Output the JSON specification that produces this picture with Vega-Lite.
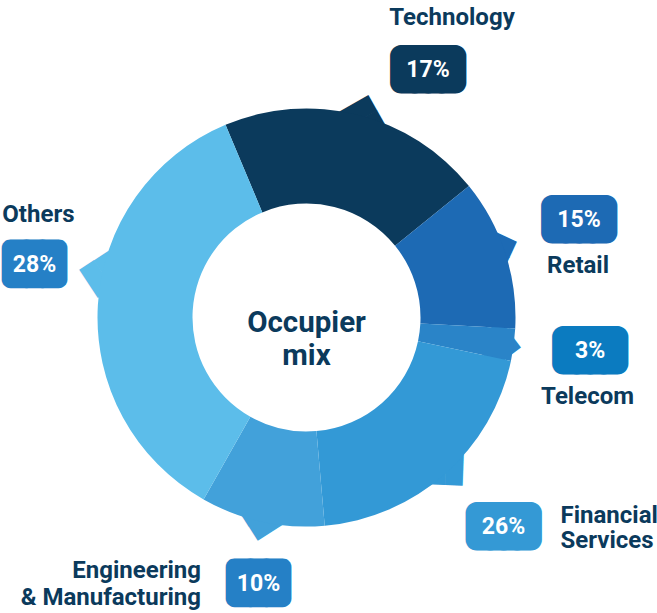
{
  "$schema": "https://vega.github.io/schema/vega-lite/v6.json",
  "width": 613,
  "height": 591,
  "autosize": {"type": "none"},
  "padding": {"left": 0, "top": 22, "right": 44, "bottom": 0},
  "background": "white",
  "config": {"view": {"stroke": null}},
  "data": {"values": [
    {"category": "Technology", "label": "Technology", "share": 0.17, "drawn_arc": 73.8, "seq": 1},
    {"category": "Retail", "label": "Retail", "share": 0.15, "drawn_arc": 42, "seq": 2},
    {"category": "Telecom", "label": "Telecom", "share": 0.03, "drawn_arc": 9, "seq": 3},
    {"category": "Financial Services", "label": "Financial\nServices", "share": 0.26, "drawn_arc": 73, "seq": 4},
    {"category": "Engineering & Manufacturing", "label": "Engineering\n& Manufacturing", "share": 0.10, "drawn_arc": 34.5, "seq": 5},
    {"category": "Others", "label": "Others", "share": 0.28, "drawn_arc": 127.7, "seq": 6}
  ]},
  "layer": [
    {"mark": {"type": "text", "font": "DejaVu Sans Mono", "fontSize": 28.5, "radius": 206, "angle": 60.5, "fill": "#0b3a5c", "align": "center", "baseline": "middle"},
     "encoding": {"theta": {"field": "drawn_arc", "type": "quantitative", "stack": true, "bandPosition": 0.519}, "order": {"field": "seq"}, "detail": {"field": "category"},
       "text": {"condition": {"test": "datum.category === 'Technology'", "value": "██"}, "value": ""}}},
    {"mark": {"type": "text", "font": "DejaVu Sans Mono", "fontSize": 28.5, "radius": 198.7, "angle": 115.2, "fill": "#1d6ab4", "align": "center", "baseline": "middle"},
     "encoding": {"theta": {"field": "drawn_arc", "type": "quantitative", "stack": true, "bandPosition": 0.457}, "order": {"field": "seq"}, "detail": {"field": "category"},
       "text": {"condition": {"test": "datum.category === 'Retail'", "value": "██"}, "value": ""}}},
    {"mark": {"type": "text", "font": "DejaVu Sans Mono", "fontSize": 28.5, "radius": 191.5, "angle": 142.9, "fill": "#2a84c8", "align": "center", "baseline": "middle"},
     "encoding": {"theta": {"field": "drawn_arc", "type": "quantitative", "stack": true, "bandPosition": 0.544}, "order": {"field": "seq"}, "detail": {"field": "category"},
       "text": {"condition": {"test": "datum.category === 'Telecom'", "value": "██"}, "value": ""}}},
    {"mark": {"type": "text", "font": "DejaVu Sans Mono", "fontSize": 28.5, "radius": 204.5, "angle": 182.1, "fill": "#3399d6", "align": "center", "baseline": "middle"},
     "encoding": {"theta": {"field": "drawn_arc", "type": "quantitative", "stack": true, "bandPosition": 0.481}, "order": {"field": "seq"}, "detail": {"field": "category"},
       "text": {"condition": {"test": "datum.category === 'Financial Services'", "value": "██"}, "value": ""}}},
    {"mark": {"type": "text", "font": "DejaVu Sans Mono", "fontSize": 28.5, "radius": 203.7, "angle": 237.3, "fill": "#42a1da", "align": "center", "baseline": "middle"},
     "encoding": {"theta": {"field": "drawn_arc", "type": "quantitative", "stack": true, "bandPosition": 0.501}, "order": {"field": "seq"}, "detail": {"field": "category"},
       "text": {"condition": {"test": "datum.category === 'Engineering & Manufacturing'", "value": "██"}, "value": ""}}},
    {"mark": {"type": "text", "font": "DejaVu Sans Mono", "fontSize": 28.5, "radius": 207.4, "angle": 326.8, "fill": "#5cbdea", "align": "center", "baseline": "middle"},
     "encoding": {"theta": {"field": "drawn_arc", "type": "quantitative", "stack": true, "bandPosition": 0.566}, "order": {"field": "seq"}, "detail": {"field": "category"},
       "text": {"condition": {"test": "datum.category === 'Others'", "value": "██"}, "value": ""}}},
    {"mark": {"type": "arc", "innerRadius": 114, "outerRadius": 209},
     "encoding": {
       "theta": {"field": "drawn_arc", "type": "quantitative", "stack": true, "scale": {"domain": [0, 360], "range": [-0.39794, 5.88525]}},
       "order": {"field": "seq"},
       "color": {"field": "category", "type": "nominal", "legend": null,
         "scale": {"domain": ["Technology", "Retail", "Telecom", "Financial Services", "Engineering & Manufacturing", "Others"],
                   "range": ["#0b3a5c", "#1d6ab4", "#2a84c8", "#3399d6", "#42a1da", "#5cbdea"]}}}},
    {"data": {"values": [{"center_label": "Occupier\nmix"}]},
     "mark": {"type": "text", "font": "Roboto", "fontWeight": "bold", "fontSize": 29.5, "fill": "#0b3a5c", "align": "center", "baseline": "middle", "lineBreak": "\n", "lineHeight": 33, "dy": 5},
     "encoding": {"text": {"field": "center_label", "type": "nominal"}}},
    {"encoding": {"theta": {"field": "drawn_arc", "type": "quantitative", "stack": true, "bandPosition": 0.6626}, "order": {"field": "seq"}, "detail": {"field": "category"}},
     "layer": [
       {"mark": {"type": "text", "radius": 276.2, "font": "DejaVu Sans Mono", "fontSize": 22.5, "fill": "#0b3a5c", "stroke": "#0b3a5c", "strokeWidth": 21.8, "strokeJoin": "round", "align": "center", "baseline": "middle", "dy": 1},
        "encoding": {"text": {"condition": {"test": "datum.category === 'Technology'", "value": "████"}, "value": ""}}},
       {"mark": {"type": "text", "radius": 276.2, "font": "Roboto", "fontWeight": "bold", "fontSize": 23, "fill": "white", "align": "center", "baseline": "middle", "dy": 1},
        "encoding": {"text": {"condition": {"test": "datum.category === 'Technology'", "field": "share", "type": "quantitative", "format": ".0%"}, "value": ""}}},
       {"mark": {"type": "text", "radius": 276.2, "font": "Roboto", "fontWeight": "bold", "fontSize": 24, "fill": "#0b3a5c", "align": "center", "baseline": "alphabetic", "dx": 24, "dy": -44.5, "lineBreak": "\n"},
        "encoding": {"text": {"condition": {"test": "datum.category === 'Technology'", "field": "label", "type": "nominal"}, "value": ""}}}
     ]},
    {"encoding": {"theta": {"field": "drawn_arc", "type": "quantitative", "stack": true, "bandPosition": 0.4555}, "order": {"field": "seq"}, "detail": {"field": "category"}},
     "layer": [
       {"mark": {"type": "text", "radius": 289.8, "font": "DejaVu Sans Mono", "fontSize": 22.5, "fill": "#1d6ab4", "stroke": "#1d6ab4", "strokeWidth": 21.8, "strokeJoin": "round", "align": "center", "baseline": "middle", "dy": 1},
        "encoding": {"text": {"condition": {"test": "datum.category === 'Retail'", "value": "████"}, "value": ""}}},
       {"mark": {"type": "text", "radius": 289.8, "font": "Roboto", "fontWeight": "bold", "fontSize": 23, "fill": "white", "align": "center", "baseline": "middle", "dy": 1},
        "encoding": {"text": {"condition": {"test": "datum.category === 'Retail'", "field": "share", "type": "quantitative", "format": ".0%"}, "value": ""}}},
       {"mark": {"type": "text", "radius": 289.8, "font": "Roboto", "fontWeight": "bold", "fontSize": 24, "fill": "#0b3a5c", "align": "center", "baseline": "alphabetic", "dx": -1, "dy": 54.3, "lineBreak": "\n"},
        "encoding": {"text": {"condition": {"test": "datum.category === 'Retail'", "field": "label", "type": "nominal"}, "value": ""}}}
     ]},
    {"encoding": {"theta": {"field": "drawn_arc", "type": "quantitative", "stack": true, "bandPosition": 0.393}, "order": {"field": "seq"}, "detail": {"field": "category"}},
     "layer": [
       {"mark": {"type": "text", "radius": 285.4, "font": "DejaVu Sans Mono", "fontSize": 22.5, "fill": "#0b7bc0", "stroke": "#0b7bc0", "strokeWidth": 21.8, "strokeJoin": "round", "align": "center", "baseline": "middle", "dy": 1},
        "encoding": {"text": {"condition": {"test": "datum.category === 'Telecom'", "value": "████"}, "value": ""}}},
       {"mark": {"type": "text", "radius": 285.4, "font": "Roboto", "fontWeight": "bold", "fontSize": 23, "fill": "white", "align": "center", "baseline": "middle", "dy": 1},
        "encoding": {"text": {"condition": {"test": "datum.category === 'Telecom'", "field": "share", "type": "quantitative", "format": ".0%"}, "value": ""}}},
       {"mark": {"type": "text", "radius": 285.4, "font": "Roboto", "fontWeight": "bold", "fontSize": 24, "fill": "#0b3a5c", "align": "center", "baseline": "alphabetic", "dx": -2.5, "dy": 54, "lineBreak": "\n"},
        "encoding": {"text": {"condition": {"test": "datum.category === 'Telecom'", "field": "label", "type": "nominal"}, "value": ""}}}
     ]},
    {"encoding": {"theta": {"field": "drawn_arc", "type": "quantitative", "stack": true, "bandPosition": 0.4744}, "order": {"field": "seq"}, "detail": {"field": "category"}},
     "layer": [
       {"mark": {"type": "text", "radius": 286.9, "font": "DejaVu Sans Mono", "fontSize": 22.5, "fill": "#3499d5", "stroke": "#3499d5", "strokeWidth": 21.8, "strokeJoin": "round", "align": "center", "baseline": "middle", "dy": 1},
        "encoding": {"text": {"condition": {"test": "datum.category === 'Financial Services'", "value": "████"}, "value": ""}}},
       {"mark": {"type": "text", "radius": 286.9, "font": "Roboto", "fontWeight": "bold", "fontSize": 23, "fill": "white", "align": "center", "baseline": "middle", "dy": 1},
        "encoding": {"text": {"condition": {"test": "datum.category === 'Financial Services'", "field": "share", "type": "quantitative", "format": ".0%"}, "value": ""}}},
       {"mark": {"type": "text", "radius": 286.9, "font": "Roboto", "fontWeight": "bold", "fontSize": 24, "fill": "#0b3a5c", "align": "left", "baseline": "alphabetic", "dx": 57, "dy": -2.7, "lineBreak": "\n", "lineHeight": 25},
        "encoding": {"text": {"condition": {"test": "datum.category === 'Financial Services'", "field": "label", "type": "nominal"}, "value": ""}}}
     ]},
    {"encoding": {"theta": {"field": "drawn_arc", "type": "quantitative", "stack": true, "bandPosition": 0.442}, "order": {"field": "seq"}, "detail": {"field": "category"}},
     "layer": [
       {"mark": {"type": "text", "radius": 269.8, "font": "DejaVu Sans Mono", "fontSize": 26.5, "fill": "#2580c6", "stroke": "#2580c6", "strokeWidth": 17.2, "strokeJoin": "round", "align": "center", "baseline": "middle", "dy": 1},
        "encoding": {"text": {"condition": {"test": "datum.category === 'Engineering & Manufacturing'", "value": "███"}, "value": ""}}},
       {"mark": {"type": "text", "radius": 269.8, "font": "Roboto", "fontWeight": "bold", "fontSize": 23, "fill": "white", "align": "center", "baseline": "middle", "dy": 1},
        "encoding": {"text": {"condition": {"test": "datum.category === 'Engineering & Manufacturing'", "field": "share", "type": "quantitative", "format": ".0%"}, "value": ""}}},
       {"mark": {"type": "text", "radius": 269.8, "font": "Roboto", "fontWeight": "bold", "fontSize": 24, "fill": "#0b3a5c", "align": "right", "baseline": "alphabetic", "dx": -57.5, "dy": -4.7, "lineBreak": "\n", "lineHeight": 26.7},
        "encoding": {"text": {"condition": {"test": "datum.category === 'Engineering & Manufacturing'", "field": "label", "type": "nominal"}, "value": ""}}}
     ]},
    {"encoding": {"theta": {"field": "drawn_arc", "type": "quantitative", "stack": true, "bandPosition": 0.561}, "order": {"field": "seq"}, "detail": {"field": "category"}},
     "layer": [
       {"mark": {"type": "text", "radius": 277.2, "font": "DejaVu Sans Mono", "fontSize": 26.5, "fill": "#2580c6", "stroke": "#2580c6", "strokeWidth": 17.2, "strokeJoin": "round", "align": "center", "baseline": "middle", "dy": 1},
        "encoding": {"text": {"condition": {"test": "datum.category === 'Others'", "value": "███"}, "value": ""}}},
       {"mark": {"type": "text", "radius": 277.2, "font": "Roboto", "fontWeight": "bold", "fontSize": 23, "fill": "white", "align": "center", "baseline": "middle", "dy": 1},
        "encoding": {"text": {"condition": {"test": "datum.category === 'Others'", "field": "share", "type": "quantitative", "format": ".0%"}, "value": ""}}},
       {"mark": {"type": "text", "radius": 277.2, "font": "Roboto", "fontWeight": "bold", "fontSize": 24, "fill": "#0b3a5c", "align": "left", "baseline": "alphabetic", "dx": -32.2, "dy": -41.5, "lineBreak": "\n"},
        "encoding": {"text": {"condition": {"test": "datum.category === 'Others'", "field": "label", "type": "nominal"}, "value": ""}}}
     ]}
  ]
}
